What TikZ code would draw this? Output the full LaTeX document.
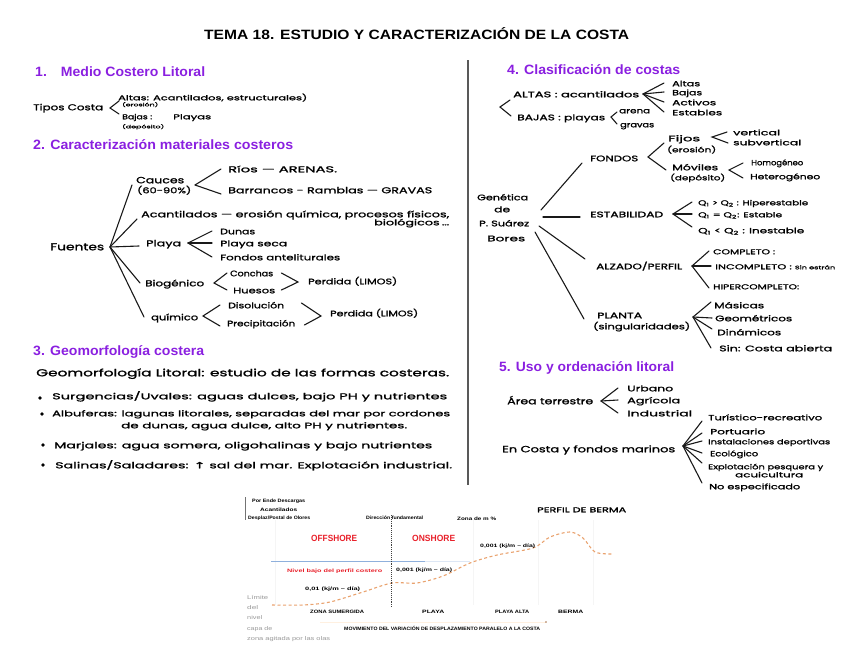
\documentclass[tikz,border=0pt]{standalone}
\usepackage{fontspec}
\usepackage{graphicx}
\setmainfont{Liberation Sans}
\newfontfamily\handf[FakeBold=1.3]{Poppins}
\newfontfamily\djvf[FakeBold=1.3]{DejaVu Sans}
\usetikzlibrary{calc}
\definecolor{headc}{HTML}{8A1FE0}
\definecolor{redc}{HTML}{E8202A}
\definecolor{orc}{HTML}{E9A26E}
\definecolor{bluec}{HTML}{8FB0DC}
\definecolor{bluel}{HTML}{DDE7F5}
\newcommand\fitw[2]{\resizebox{#1pt}{\height}{#2}}
% name, x-left, y-centre, width, font size, text
\newcommand\hw[6]{\node[lbl] (#1) at (#2,#3) {\fitw{#4}{\fontsize{#5}{#5}\handf #6}};}
\newcommand\hd[5]{\node[headlbl] (#1) at (#2,#3) {\fitw{#4}{#5}};}
\newcommand\ch[6][black]{\node[lbl,text=#1] (#2) at (#3,#4) {\fitw{#5}{\fontsize{4.8}{4.8}\selectfont\bfseries #6}};}
\newcommand\fan[3]{\foreach \n in {#3} {\draw[wire] (#1) -- ([xshift=-#2pt]\n.west);}}
\tikzset{
  lbl/.style={anchor=west,inner sep=0pt,text height=6.5pt,text depth=0pt},
  headlbl/.style={anchor=west,inner sep=0pt,text=headc,font=\fontsize{13.5}{13.5}\selectfont\bfseries,text height=9.8pt,text depth=0pt},
  wire/.style={draw=black!90,line width=1.1pt,line cap=round},
  bullet/.style={circle,fill=black,inner sep=0pt,minimum size=3.8pt},
}
\begin{document}
\begin{tikzpicture}[x=1pt,y=-1pt]
\useasboundingbox (0,0) rectangle (848,656);
% title and headings
\node[headlbl,text=black] (title) at (204,35) {\fitw{425}{TEMA 18. ESTUDIO Y CARACTERIZACIÓN DE LA COSTA}};
\hd{h1}{35}{72}{170}{1.\hspace{1em}Medio Costero Litoral}
\hd{h2}{33}{145}{260}{2. Caracterización materiales costeros}
\hd{h3}{33}{351}{171}{3. Geomorfología costera}
\hd{h4}{507}{70}{173}{4. Clasificación de costas}
\hd{h5}{499}{367}{175}{5. Uso y ordenación litoral}
\coordinate (vt) at (468,60);
\coordinate (vb) at (468,485);
\draw[draw=black!65,line width=1.6pt] (vt) -- (vb);
% section 1
\hw{tipos}{33}{107}{70}{8.5}{Tipos Costa}
\hw{altas}{118}{97}{189}{7}{Altas: Acantilados, estructurales)}
\hw{eros}{122}{103}{36}{4.5}{(erosión)}
\hw{bajas}{122}{116}{30}{7}{Bajas :}
\hw{playas}{173}{116}{38}{7}{Playas}
\hw{depo}{122}{125}{42}{4.5}{(depósito)}
\coordinate (a1) at (110,108);
\draw[wire] ([xshift=1pt]altas.west) ++(0,4) -- (a1) -- ([shift={(-3,-2)}]bajas.west);
% section 2
\hw{fuentes}{50}{247}{54}{10}{Fuentes}
\hw{cauces}{136}{180}{48}{9}{Cauces}
\hw{cauces2}{137}{190}{54}{8}{(60-90\%)}
\hw{rios}{228}{169}{109}{8.5}{Ríos — ARENAS.}
\hw{barr}{228}{190}{204}{8.5}{Barrancos - Ramblas — GRAVAS}
\hw{acan}{141}{214}{308}{8.5}{Acantilados — erosión química, procesos físicos,}
\hw{bio2}{374}{222}{75}{8}{biológicos\,…}
\hw{playa}{146}{243}{35}{8.5}{Playa}
\hw{dunas}{220}{231}{35}{8}{Dunas}
\hw{pseca}{220}{243}{67}{8}{Playa seca}
\hw{fondos}{220}{257}{120}{8}{Fondos anteliturales}
\hw{biog}{145}{283}{59}{8.5}{Biogénico}
\hw{conchas}{230}{273}{43}{8}{Conchas}
\hw{huesos}{233}{290}{42}{8}{Huesos}
\hw{perd1}{308}{281}{89}{8}{Perdida (LIMOS)}
\hw{quim}{151}{317}{47}{8.5}{químico}
\hw{diso}{228}{305}{56}{8}{Disolución}
\hw{prec}{227}{323}{68}{8}{Precipitación}
\hw{perd2}{330}{313}{88}{8}{Perdida (LIMOS)}
\coordinate (fu) at (110,247);
\draw[wire] (fu) -- ([shift={(-4,5)}]cauces.west);
\draw[wire] (fu) -- ([shift={(-4,5)}]acan.west);
\draw[wire] (fu) -- ([shift={(-7,3)}]playa.west);
\draw[wire] (fu) -- ([xshift=-5pt]biog.west);
\draw[wire] (fu) -- ([xshift=-7pt]quim.west);
\coordinate (a2) at (195,185);
\fan{a2}{7}{rios}
\draw[wire] (a2) -- ([shift={(-7,4)}]barr.west);
\coordinate (a3) at (188,243);
\fan{a3}{8}{dunas,pseca,fondos}
\coordinate (a4) at (214,283);
\draw[wire] (conchas.west) ++(-3,0) -- (a4) -- ([xshift=-6pt]huesos.west);
\coordinate (a5) at (298,282);
\draw[wire] ([xshift=8pt]conchas.east) -- (a5) -- ([xshift=6pt]huesos.east);
\coordinate (a6) at (203,316);
\draw[wire] ([xshift=-8pt]diso.west) -- (a6) -- ([shift={(-7,3)}]prec.west);
\coordinate (a7) at (321,316);
\draw[wire] ([shift={(17,-2)}]diso.east) -- (a7) -- ([shift={(9,2)}]prec.east);
% section 3
\hw{geo}{36}{373}{413}{10}{Geomorfología Litoral: estudio de las formas costeras.}
\node[bullet] (b1) at (40,398) {};
\hw{surg}{52}{396}{395}{8.5}{Surgencias/Uvales: aguas dulces, bajo PH y nutrientes}
\node[bullet] (b2) at (42,414) {};
\hw{albu}{52}{413}{398}{8}{Albuferas: lagunas litorales, separadas del mar por cordones}
\hw{albu2}{121}{425}{286}{8}{de dunas, agua dulce, alto PH y nutrientes.}
\node[bullet] (b3) at (43,445) {};
\hw{marj}{54}{445}{378}{8.5}{Marjales: agua somera, oligohalinas y bajo nutrientes}
\node[bullet] (b4) at (43,465) {};
\hw{sali}{55}{465}{397}{8.5}{Salinas/Saladares: {\djvf ↑} sal del mar. Explotación industrial.}
% section 4
\hw{alt}{513}{94}{126}{8}{ALTAS : acantilados}
\hw{bj}{517}{117}{88}{8}{BAJAS : playas}
\hw{c1}{672}{83}{28}{7.5}{Altas}
\hw{c2}{672}{92}{30}{7.5}{Bajas}
\hw{c3}{672}{102}{44}{7.5}{Activos}
\hw{c4}{672}{112}{50}{7.5}{Estables}
\hw{are}{619}{110}{31}{7.5}{arena}
\hw{gra}{620}{124}{34}{7.5}{gravas}
\coordinate (d0) at (500,107);
\draw[wire] ([shift={(-3,6)}]alt.west) -- (d0) -- ([shift={(-6,-1)}]bj.west);
\coordinate (d1) at (643,94);
\fan{d1}{8}{c1,c2,c3,c4}
\coordinate (d2) at (611,117);
\draw[wire] ([shift={(-2,2)}]are.west) -- (d2) -- ([xshift=-3pt]gra.west);
\hw{gen}{477}{197}{51}{8}{Genética}
\hw{de}{494}{209}{16}{8}{de}
\hw{psu}{479}{223}{50}{8}{P. Suárez}
\hw{bor}{487}{238}{38}{8}{Bores}
\hw{fon}{590}{158}{48}{8}{FONDOS}
\hw{est}{590}{214}{73}{8}{ESTABILIDAD}
\hw{alz}{596}{266}{86}{8}{ALZADO/PERFIL}
\hw{pla}{597}{315}{45}{8}{PLANTA}
\hw{sing}{593}{326}{97}{8}{(singularidades)}
\coordinate (e1) at (541,210);
\coordinate (e2) at (543,217);
\coordinate (e3) at (539,226);
\coordinate (e4) at (535,232);
\draw[wire] (e1) -- ([shift={(-8,5)}]fon.west);
\draw[wire] (e2) -- ([shift={(-10,3)}]est.west);
\draw[wire] (e3) -- ([shift={(-11,-7)}]alz.west);
\draw[wire] (e4) -- ([shift={(-13,4)}]pla.west);
\hw{fij}{668}{138}{32}{8}{Fijos}
\hw{fij2}{667}{149}{49}{7}{(erosión)}
\hw{mov}{672}{167}{46}{8}{Móviles}
\hw{mov2}{670}{177}{55}{7}{(depósito)}
\hw{ver}{733}{132}{47}{7.5}{vertical}
\hw{sub}{733}{142}{68}{7.5}{subvertical}
\hw{hom}{751}{162}{52}{7.5}{Homogéneo}
\hw{het}{750}{176}{70}{7.5}{Heterogéneo}
\coordinate (f1) at (648,157);
\draw[wire] ([shift={(-4,5)}]fij.west) -- (f1) -- ([shift={(-6,3)}]mov.west);
\coordinate (f2) at (712,137);
\draw[wire] ([xshift=-6pt]ver.west) -- (f2) -- ([shift={(-5,1)}]sub.west);
\coordinate (f3) at (729,170);
\draw[wire] ([shift={(-8,1)}]hom.west) -- (f3) -- ([shift={(-7,2)}]het.west);
\hw{q1}{698}{202}{110}{7}{Q\textsubscript{1} > Q\textsubscript{2} : Hiperestable}
\hw{q2}{698}{214}{84}{7}{Q\textsubscript{1} = Q\textsubscript{2}: Estable}
\hw{q3}{698}{230}{106}{7.5}{Q\textsubscript{1} < Q\textsubscript{2} : Inestable}
\coordinate (g1) at (673,214);
\fan{g1}{6}{q1,q2}
\draw[wire] (g1) -- ([shift={(-6,-3)}]q3.west);
\hw{com}{713}{251}{62}{7}{COMPLETO :}
\hw{inc}{715}{266}{120}{7}{INCOMPLETO : {\fontsize{5}{5}\handf Sin estrán}}
\hw{hip}{713}{286}{86}{7}{HIPERCOMPLETO:}
\coordinate (g2) at (692,266);
\fan{g2}{4}{com,inc}
\draw[wire] (g2) -- ([shift={(-4,2)}]hip.west);
\hw{mas}{714}{305}{50}{8}{Másicas}
\hw{geom}{715}{318}{77}{8}{Geométricos}
\hw{din}{717}{332}{64}{8}{Dinámicos}
\hw{sin}{719}{348}{113}{8}{Sin: Costa abierta}
\coordinate (g3) at (693,317);
\draw[wire] (g3) -- ([shift={(-3,-3)}]mas.west);
\draw[wire] (g3) -- ([xshift=-3pt]geom.west);
\draw[wire] (g3) -- ([shift={(-5,-3)}]din.west);
\draw[wire] (g3) -- ([xshift=-8pt]sin.west) ;
% section 5
\hw{area}{507}{401}{86}{9}{Área terrestre}
\hw{urb}{627}{388}{46}{8}{Urbano}
\hw{agr}{627}{400}{53}{8}{Agrícola}
\hw{ind}{627}{413}{65}{8}{Industrial}
\coordinate (k1) at (601,401);
\fan{k1}{9}{urb,agr,ind}
\hw{enc}{502}{449}{173}{9}{En Costa y fondos marinos}
\hw{t1}{708}{417}{114}{7.5}{Turístico-recreativo}
\hw{t2}{710}{431}{55}{7.5}{Portuario}
\hw{t3}{708}{441}{122}{7}{Instalaciones deportivas}
\hw{t4}{710}{453}{48}{7.5}{Ecológico}
\hw{t5}{708}{466}{115}{7}{Explotación pesquera y}
\hw{t5b}{735}{474}{68}{7}{acuicultura}
\hw{t6}{709}{486}{91}{7.5}{No especificado}
\coordinate (k2) at (683,446);
\draw[wire] (k2) -- ([shift={(-6,4)}]t1.west);
\draw[wire] (k2) -- ([shift={(-8,2)}]t2.west);
\draw[wire] (k2) -- ([xshift=-6pt]t3.west);
\draw[wire] (k2) -- ([xshift=-8pt]t4.west);
\draw[wire] (k2) -- ([shift={(-6,-3)}]t5.west);
\draw[wire] (k2) -- ([shift={(-7,-3)}]t6.west);
% chart
\coordinate (q1t) at (245,497);
\coordinate (q1b) at (245,520);
\draw[draw=black!55,line width=0.7pt] (q1t) -- (q1b);
\foreach \fx in {275,473,538,593} {\draw[draw=black!4,line width=0.6pt] (\fx,520) -- (\fx,605);}
\coordinate (bl1) at (271,561);
\coordinate (bl2) at (425,561);
\coordinate (bl3) at (470,561);
\draw[draw=bluec,line width=0.9pt] (bl1) -- (bl2);
\draw[draw=bluel,line width=0.9pt] (bl2) -- (bl3);
\draw[draw=orc,line width=1.1pt,dash pattern=on 3pt off 2.5pt,smooth] plot coordinates {(272,605) (303,605) (330,602) (363,592) (392,583) (417,583) (443,576) (470,563) (497,555) (533,548) (550,537) (570,532) (583,538) (595,552) (613,554)};
\coordinate (dt) at (391,515);
\coordinate (db) at (391,608);
\draw[draw=black!75,line width=0.9pt,densely dotted] (dt) -- (db);
\coordinate (ar1) at (320,622);
\coordinate (ar2) at (546,622);
\draw[draw=orange!12,line width=0.7pt] (ar1) -- (ar2);
\fill[orc!70!black] (ar2) circle (0.9pt);
\ch{n1}{252}{499}{53}{Por Ende Descargas}
\ch{n2}{260}{508}{37}{Acantilados}
\ch{n3}{248}{516}{62}{Desplaz/Postal de Olores}
\ch{n4}{366}{516}{57}{Dirección fundamental}
\ch{n5}{457}{517}{39}{Zona de  m \%}
\hw{berma}{537}{509}{89}{7}{PERFIL DE BERMA}
\node[lbl,text=redc,font=\fontsize{9}{9}\selectfont\bfseries] (off) at (311,538) {\fitw{46}{OFFSHORE}};
\node[lbl,text=redc,font=\fontsize{9}{9}\selectfont\bfseries] (on) at (412,538) {\fitw{43}{ONSHORE}};
\ch[redc]{n6}{287}{569}{95}{Nivel bajo del perfil costero}
\ch{n7}{396}{568}{56}{0,001 (kj/m – día)}
\ch{n8}{480}{544}{55}{0,001 (kj/m – día)}
\ch{n9}{305}{587}{55}{0,01 (kj/m – día)}
\ch{p1}{310}{610}{54}{ZONA SUMERGIDA}
\ch{p2}{422}{610}{22}{PLAYA}
\ch{p3}{495}{610}{34}{PLAYA ALTA}
\ch{p4}{558}{610}{25}{BERMA}
\ch{mv}{344}{627}{196}{MOVIMIENTO DEL VARIACIÓN DE DESPLAZAMIENTO PARALELO A LA COSTA}
\foreach \nm/\ly/\lw/\tx in {g1n/596/21/Límite,g2n/606/11/del,g3n/616/15/nivel,g4n/627/25/capa de,g5n/637/83/zona agitada por las olas}
  {\node[lbl,text=black!40,font=\fontsize{5.5}{5.5}\selectfont] (\nm) at (247,\ly) {\fitw{\lw}{\tx}};}
\end{tikzpicture}
\end{document}
